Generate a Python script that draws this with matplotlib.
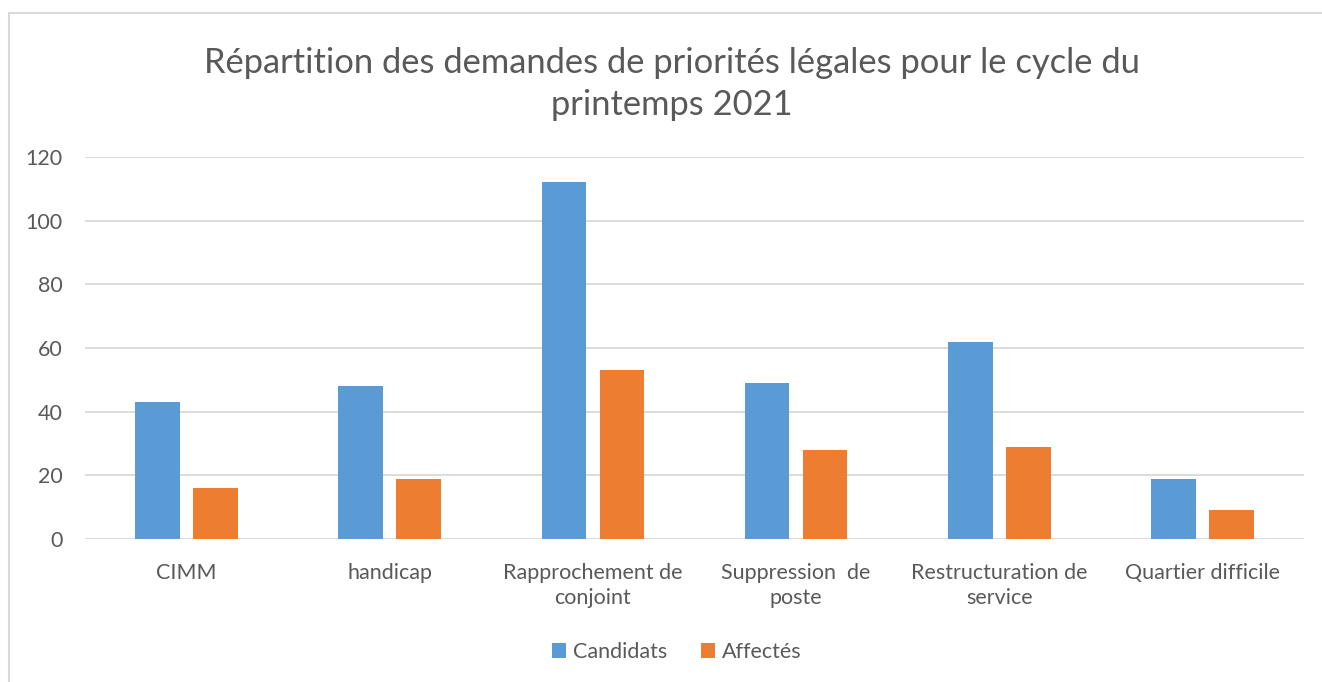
import matplotlib
matplotlib.use("Agg")
import matplotlib.pyplot as plt
import numpy as np
from matplotlib.patches import Rectangle

categories = ["CIMM", "handicap", "Rapprochement de\nconjoint", "Suppression  de\nposte",
              "Restructuration de\nservice", "Quartier difficile"]
candidats = [43, 48, 112, 49, 62, 19]
affectes = [16, 19, 53, 28, 29, 9]
title = "Répartition des demandes de priorités légales pour le cycle du\nprintemps 2021"

plt.rcParams['font.family'] = ['Lato', 'DejaVu Sans']
text_color = '#595959'

fig = plt.figure(figsize=(13.22, 6.82), dpi=100)
ax = fig.add_axes([0.0643, 0.2097, 0.9221, 0.5601])

# chart border
fig.patches.append(Rectangle((9/1322, -0.01), 1.2, 1 - 13/682 + 0.01, transform=fig.transFigure,
                             fill=False, edgecolor='#D9D9D9', linewidth=1.5))

x = np.arange(len(categories))
w = 0.22
off = 0.143
ax.bar(x - off, candidats, w, color='#5B9BD5', label='Candidats', zorder=3)
ax.bar(x + off, affectes, w, color='#ED7D31', label='Affectés', zorder=3)

ax.set_xlim(-0.5, len(categories) - 0.5)
ax.set_ylim(0, 120)
ax.set_yticks(range(0, 121, 20))
ax.yaxis.grid(True, color='#D9D9D9', linewidth=1.3)
ax.set_axisbelow(True)
for s in ax.spines.values():
    s.set_visible(False)
ax.tick_params(axis='both', length=0, labelsize=15.5, colors=text_color)
ax.tick_params(axis='x', pad=17)
ax.tick_params(axis='y', pad=16)
ax.set_xticks(x)
ax.set_xticklabels(categories, linespacing=1.35)

fig.text(672/1322, 1 - 84/682, title, ha='center', va='center', fontsize=24.8,
         color=text_color, linespacing=1.38)

ax.legend(loc='center', bbox_to_anchor=(0.512, 1 - 652/682), bbox_transform=fig.transFigure,
          ncol=2, frameon=False, fontsize=15.5, labelcolor=text_color,
          handlelength=0.65, handleheight=0.65, handletextpad=0.3, columnspacing=1.6)

fig.savefig("out.png", dpi=100)
